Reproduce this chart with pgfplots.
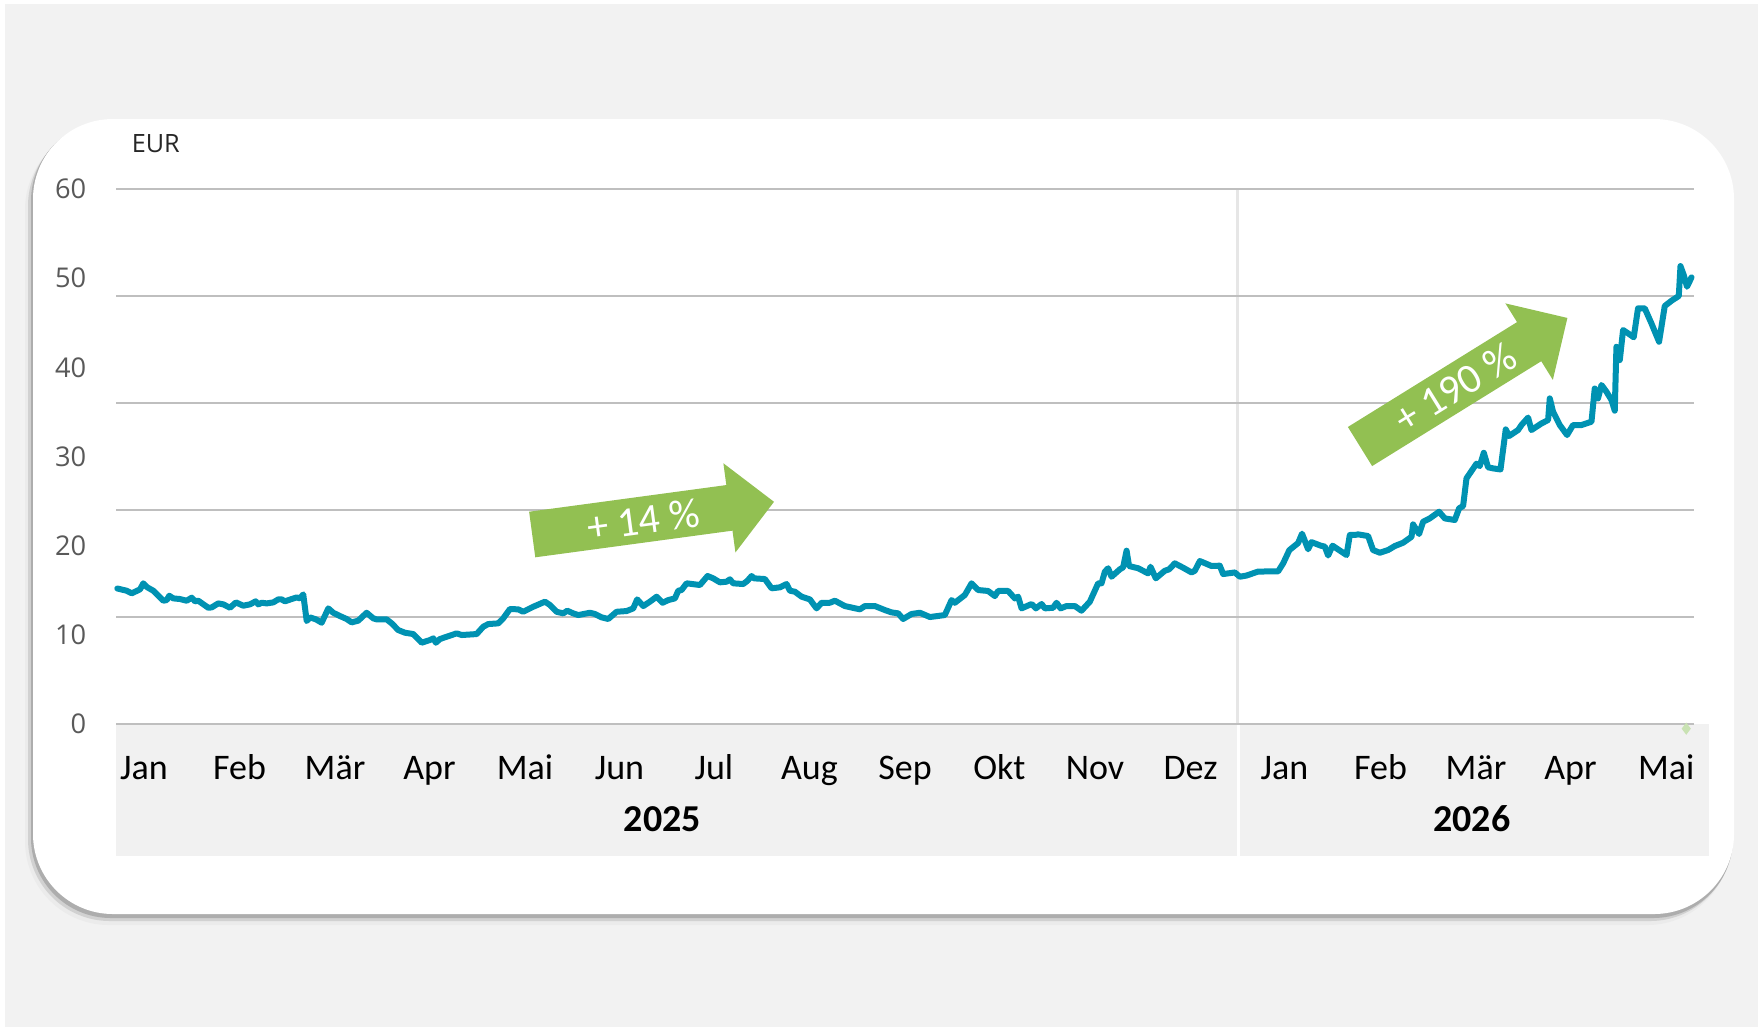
\documentclass[border=0pt]{standalone}
\usepackage{fontspec}
\setmainfont{Carlito}
\newfontfamily\osans{Open Sans}
\usepackage{pgfplots}
\pgfplotsset{compat=1.18}
\definecolor{bggray}{HTML}{F2F2F2}
\definecolor{bandgray}{HTML}{F1F1F1}
\definecolor{gridgray}{HTML}{BFBFBF}
\definecolor{divgray}{HTML}{E6E6E6}
\definecolor{lineblue}{HTML}{0092B2}
\definecolor{arrowgreen}{HTML}{92C052}
\definecolor{tickgray}{HTML}{595959}
\definecolor{diamondgreen}{HTML}{C9E2B3}
\begin{document}
\begin{tikzpicture}
\begin{scope}[x=0.25pt,y=-0.25pt]
\fill[white] (0,0) rectangle (1763,1031);
\fill[bggray] (5,4) rectangle (1758,1027);
\fill[black!8, rounded corners=21pt] (25,126) rectangle (1731,925);
\fill[black!18, rounded corners=20.5pt] (28,124) rectangle (1732,921);
\fill[black!32, rounded corners=20pt] (31,121) rectangle (1733,918);
\fill[white, rounded corners=20pt] (33,119) rectangle (1734,914);
\fill[bandgray] (116,724) rectangle (1236.5,856);
\fill[bandgray] (1239.5,724) rectangle (1709,856);
\node[anchor=west, inner sep=0pt, font=\osans\fontsize{6.3}{7}\selectfont, text=black!85] at (131,144) {EUR};
\node[font=\bfseries\fontsize{9.5}{10}\selectfont] at (662.3,819) {2025};
\node[font=\bfseries\fontsize{9.5}{10}\selectfont] at (1471.8,819) {2026};
\end{scope}
\begin{axis}[
  at={(29pt,-181pt)}, anchor=south west,
  scale only axis, width=394.5pt, height=133.75pt,
  xmin=0, xmax=16.88, ymin=0, ymax=60,
  axis line style={draw=none},
  major tick length=0pt,
  ytick={0,10,20,30,40,50,60},
  yticklabel style={font=\osans\fontsize{6.8}{7}\selectfont, text=tickgray, anchor=east, inner sep=0pt, xshift=-7.25pt},
  /pgf/number format/assume math mode=true,
  xtick={0.298,1.321,2.343,3.353,4.376,5.385,6.396,7.418,8.440,9.450,10.473,11.494,12.5,13.527,14.548,15.559,16.582},
  xticklabels={Jan,Feb,Mär,Apr,Mai,Jun,Jul,Aug,Sep,Okt,Nov,Dez,Jan,Feb,Mär,Apr,Mai},
  xticklabel style={font=\fontsize{9}{10}\selectfont, anchor=center, text height=5.7pt, text depth=0pt, yshift=-11pt, inner sep=0pt},
  major grid style={gridgray, line width=0.5pt},
  extra y ticks={0,12,24,36,48,60},
  extra y tick labels={},
  extra y tick style={grid=major, major grid style={gridgray, line width=0.5pt}},
  extra x ticks={12}, extra x tick labels={},
  extra x tick style={grid=major, major grid style={divgray, line width=0.75pt}},
  clip=false,
]
\addplot[lineblue, line width=1.5pt, line join=round, line cap=round] coordinates {
(0.014,15.20) (0.114,14.95) (0.168,14.66) (0.257,15.10) (0.292,15.78) (0.335,15.33) (0.399,14.95) (0.506,13.83)
(0.542,13.90) (0.570,14.39) (0.613,14.09) (0.684,14.02) (0.756,13.83) (0.810,14.17) (0.845,13.76) (0.880,13.83)
(0.987,13.04) (1.024,13.08) (1.094,13.53) (1.148,13.42) (1.219,13.04) (1.283,13.64) (1.361,13.27) (1.433,13.42)
(1.494,13.76) (1.522,13.42) (1.558,13.60) (1.612,13.53) (1.682,13.64) (1.736,13.98) (1.772,13.98) (1.807,13.76)
(1.879,14.02) (1.933,14.20) (1.968,14.09) (2.003,14.54) (2.040,11.55) (2.075,11.96) (2.139,11.74) (2.200,11.36)
(2.271,12.97) (2.324,12.48) (2.396,12.11) (2.467,11.78) (2.521,11.40) (2.591,11.59) (2.681,12.48) (2.752,11.85)
(2.788,11.74) (2.895,11.74) (2.949,11.29) (3.019,10.54) (3.091,10.24) (3.180,10.09) (3.270,9.12) (3.358,9.42)
(3.394,9.61) (3.422,9.12) (3.465,9.53) (3.537,9.79) (3.644,10.17) (3.697,9.98) (3.858,10.09) (3.928,10.91)
(3.982,11.21) (4.089,11.29) (4.142,11.85) (4.214,12.90) (4.303,12.86) (4.356,12.59) (4.463,13.15) (4.588,13.72)
(4.642,13.35) (4.713,12.59) (4.784,12.41) (4.827,12.71) (4.891,12.41) (4.944,12.22) (5.070,12.48) (5.123,12.34)
(5.195,11.96) (5.265,11.78) (5.355,12.59) (5.462,12.67) (5.533,12.97) (5.575,13.98) (5.640,13.23) (5.711,13.72)
(5.783,14.28) (5.847,13.60) (5.907,13.90) (5.979,14.09) (6.014,14.95) (6.050,15.03) (6.104,15.78) (6.246,15.59)
(6.328,16.60) (6.388,16.34) (6.460,15.89) (6.531,15.96) (6.567,16.23) (6.602,15.78) (6.709,15.70) (6.752,16.04)
(6.799,16.60) (6.824,16.34) (6.941,16.26) (7.013,15.22) (7.102,15.33) (7.173,15.70) (7.209,14.95) (7.262,14.84)
(7.334,14.28) (7.422,13.98) (7.494,12.97) (7.548,13.60) (7.636,13.60) (7.690,13.83) (7.797,13.23) (7.957,12.86)
(8.011,13.23) (8.118,13.23) (8.225,12.78) (8.296,12.52) (8.367,12.41) (8.420,11.78) (8.510,12.34) (8.599,12.48)
(8.706,12.00) (8.866,12.22) (8.938,13.90) (8.973,13.60) (9.080,14.47) (9.152,15.78) (9.222,15.03) (9.329,14.92)
(9.401,14.35) (9.436,14.92) (9.543,14.92) (9.615,14.09) (9.650,14.28) (9.687,12.97) (9.794,13.46) (9.840,12.97)
(9.901,13.46) (9.936,12.97) (10.024,13.04) (10.061,13.60) (10.104,12.97) (10.168,13.23) (10.257,13.23) (10.328,12.71)
(10.417,13.72) (10.506,15.78) (10.542,15.78) (10.578,17.09) (10.613,17.47) (10.649,16.52) (10.738,17.35) (10.773,17.57)
(10.810,19.44) (10.837,17.72) (10.934,17.47) (11.041,16.89) (11.066,17.64) (11.123,16.34) (11.219,17.19) (11.265,17.35)
(11.326,18.02) (11.415,17.53) (11.505,17.00) (11.540,17.19) (11.594,18.28) (11.719,17.72) (11.807,17.76) (11.843,16.82)
(11.968,17.00) (12.021,16.52) (12.093,16.65) (12.217,17.10) (12.431,17.12) (12.485,18.02) (12.551,19.50) (12.645,20.30)
(12.687,21.35) (12.752,19.60) (12.788,20.40) (12.888,20.00) (12.930,19.90) (12.966,18.90) (13.013,20.00) (13.163,18.95)
(13.198,21.20) (13.251,21.20) (13.287,21.27) (13.394,21.08) (13.447,19.51) (13.519,19.21) (13.607,19.51) (13.679,19.96)
(13.768,20.33) (13.858,21.00) (13.875,22.39) (13.939,21.31) (13.982,22.69) (14.053,23.06) (14.153,23.81) (14.214,23.06)
(14.321,22.88) (14.367,24.19) (14.410,24.45) (14.446,27.55) (14.553,29.20) (14.588,28.93) (14.631,30.42) (14.677,28.79)
(14.731,28.67) (14.810,28.55) (14.866,33.04) (14.902,32.30) (14.998,32.97) (15.034,33.53) (15.105,34.37) (15.141,32.97)
(15.248,33.71) (15.319,34.09) (15.337,36.52) (15.372,35.03) (15.444,33.53) (15.522,32.41) (15.586,33.53) (15.676,33.53)
(15.783,33.90) (15.818,37.63) (15.853,36.52) (15.890,38.02) (15.943,37.27) (15.997,36.34) (16.032,35.14) (16.050,42.31)
(16.086,40.82) (16.121,44.19) (16.174,43.82) (16.235,43.37) (16.281,46.62) (16.353,46.62) (16.424,44.94) (16.506,42.87)
(16.567,46.88) (16.639,47.47) (16.717,48.00) (16.735,51.36) (16.770,50.35) (16.805,49.04) (16.853,50.09)
};
\addplot[only marks, mark=diamond*, mark size=1.2pt, color=diamondgreen] coordinates {(16.797,-0.52)};
\end{axis}
\begin{scope}[x=0.25pt,y=-0.25pt]
\begin{scope}[shift={(532.2,534.5)}, rotate=7.7]
\fill[arrowgreen] (0,-23) -- (199,-23) -- (199,-45) -- (244,0) -- (199,45) -- (199,23) -- (0,23) -- cycle;
\node[transform shape, text=white, font=\fontsize{10.5}{11}\selectfont, inner sep=0pt] at (112,0) {+ 14 \%};
\end{scope}
\begin{scope}[shift={(1360,446.5)}, rotate=31.8]
\fill[arrowgreen] (0,-23) -- (199,-23) -- (199,-45) -- (244,0) -- (199,45) -- (199,23) -- (0,23) -- cycle;
\node[transform shape, text=white, font=\fontsize{10.5}{11}\selectfont, inner sep=0pt] at (112,0) {+ 190 \%};
\end{scope}
\end{scope}
\end{tikzpicture}
\end{document}
